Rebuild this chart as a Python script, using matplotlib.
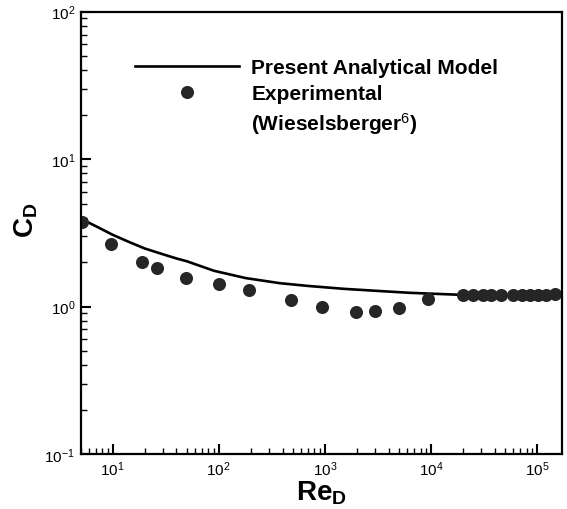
import numpy as np
import matplotlib
matplotlib.use("Agg")
import matplotlib.pyplot as plt
from matplotlib.lines import Line2D
from matplotlib.ticker import LogLocator, NullFormatter

plt.rcParams['font.family'] = ['Liberation Sans', 'DejaVu Sans']
plt.rcParams['mathtext.fontset'] = 'custom'
plt.rcParams['mathtext.rm'] = 'Liberation Sans'
plt.rcParams['mathtext.bf'] = 'Liberation Sans:bold'
plt.rcParams['mathtext.it'] = 'Liberation Sans:italic'

# analytical model curve
re_model = [5, 7, 10, 14, 20, 30, 40, 50, 90, 180, 380, 700, 1500, 3000, 6300, 15000, 20000]
cd_model = [3.95, 3.50, 3.07, 2.76, 2.48, 2.26, 2.12, 2.03, 1.75, 1.56, 1.44, 1.38,
            1.32, 1.28, 1.24, 1.21, 1.20]

# Wieselsberger experiments
re_exp = [5.2, 9.6, 19, 26, 49, 100, 195, 480, 940, 1950, 3000, 5000, 9400,
          20000, 25000, 31000, 37000, 46000, 59000, 72000, 86000, 103000, 123000, 148000]
cd_exp = [3.73, 2.66, 2.02, 1.83, 1.57, 1.42, 1.30, 1.10, 0.99, 0.92, 0.94, 0.98, 1.12,
          1.19, 1.19, 1.19, 1.19, 1.19, 1.19, 1.19, 1.19, 1.19, 1.20, 1.22]

fig = plt.figure(figsize=(5.67, 5.10), dpi=100)
ax = fig.add_axes([0.1423, 0.1078, 0.8487, 0.8673])

ax.plot(re_model, cd_model, color='black', lw=1.9)
ax.plot(re_exp, cd_exp, 'o', color='#262626', ms=9.4, mec='none')

ax.set_xscale('log')
ax.set_yscale('log')
ax.set_xlim(5, 1.72e5)
ax.set_ylim(0.1, 100)

for s in ax.spines.values():
    s.set_linewidth(1.6)

ax.tick_params(which='both', direction='in', top=False, right=False, width=1.0)
ax.tick_params(which='major', length=7, width=1.5, labelsize=11, pad=4)
ax.tick_params(which='minor', length=4.5)
ax.xaxis.set_minor_locator(LogLocator(base=10, subs=np.arange(2, 10), numticks=20))
ax.yaxis.set_minor_locator(LogLocator(base=10, subs=np.arange(2, 10), numticks=20))
ax.xaxis.set_minor_formatter(NullFormatter())
ax.yaxis.set_minor_formatter(NullFormatter())

xt = [10, 100, 1000, 10000, 100000]
ax.set_xticks(xt)
ax.set_xticklabels(['10$^{%d}$' % int(np.log10(v)) for v in xt])
yt = [0.1, 1, 10, 100]
ax.set_yticks(yt)
ax.set_yticklabels(['10$^{%d}$' % int(round(np.log10(v))) for v in yt])

ax.set_xlabel(r'$\mathbf{Re_D}$', fontsize=20, labelpad=0)
ax.set_ylabel(r'$\mathbf{C_D}$', fontsize=20)
ax.yaxis.set_label_coords(-0.085, 0.53)

# legend: marker sits on the first line of the two-line label
handles = [Line2D([], [], color='black', lw=1.9),
           Line2D([], [], ls='none', marker='o', color='#262626', ms=9.4, mec='none'),
           Line2D([], [], ls='none')]
labels = ['Present Analytical Model', 'Experimental', '(Wieselsberger$^6$)']
ax.legend(handles, labels, loc='upper left', bbox_to_anchor=(0.073, 0.938), frameon=False,
          handlelength=5.0, handletextpad=0.6, labelspacing=0.35,
          prop={'weight': 'bold', 'size': 15})

fig.savefig('out.png', dpi=100)
